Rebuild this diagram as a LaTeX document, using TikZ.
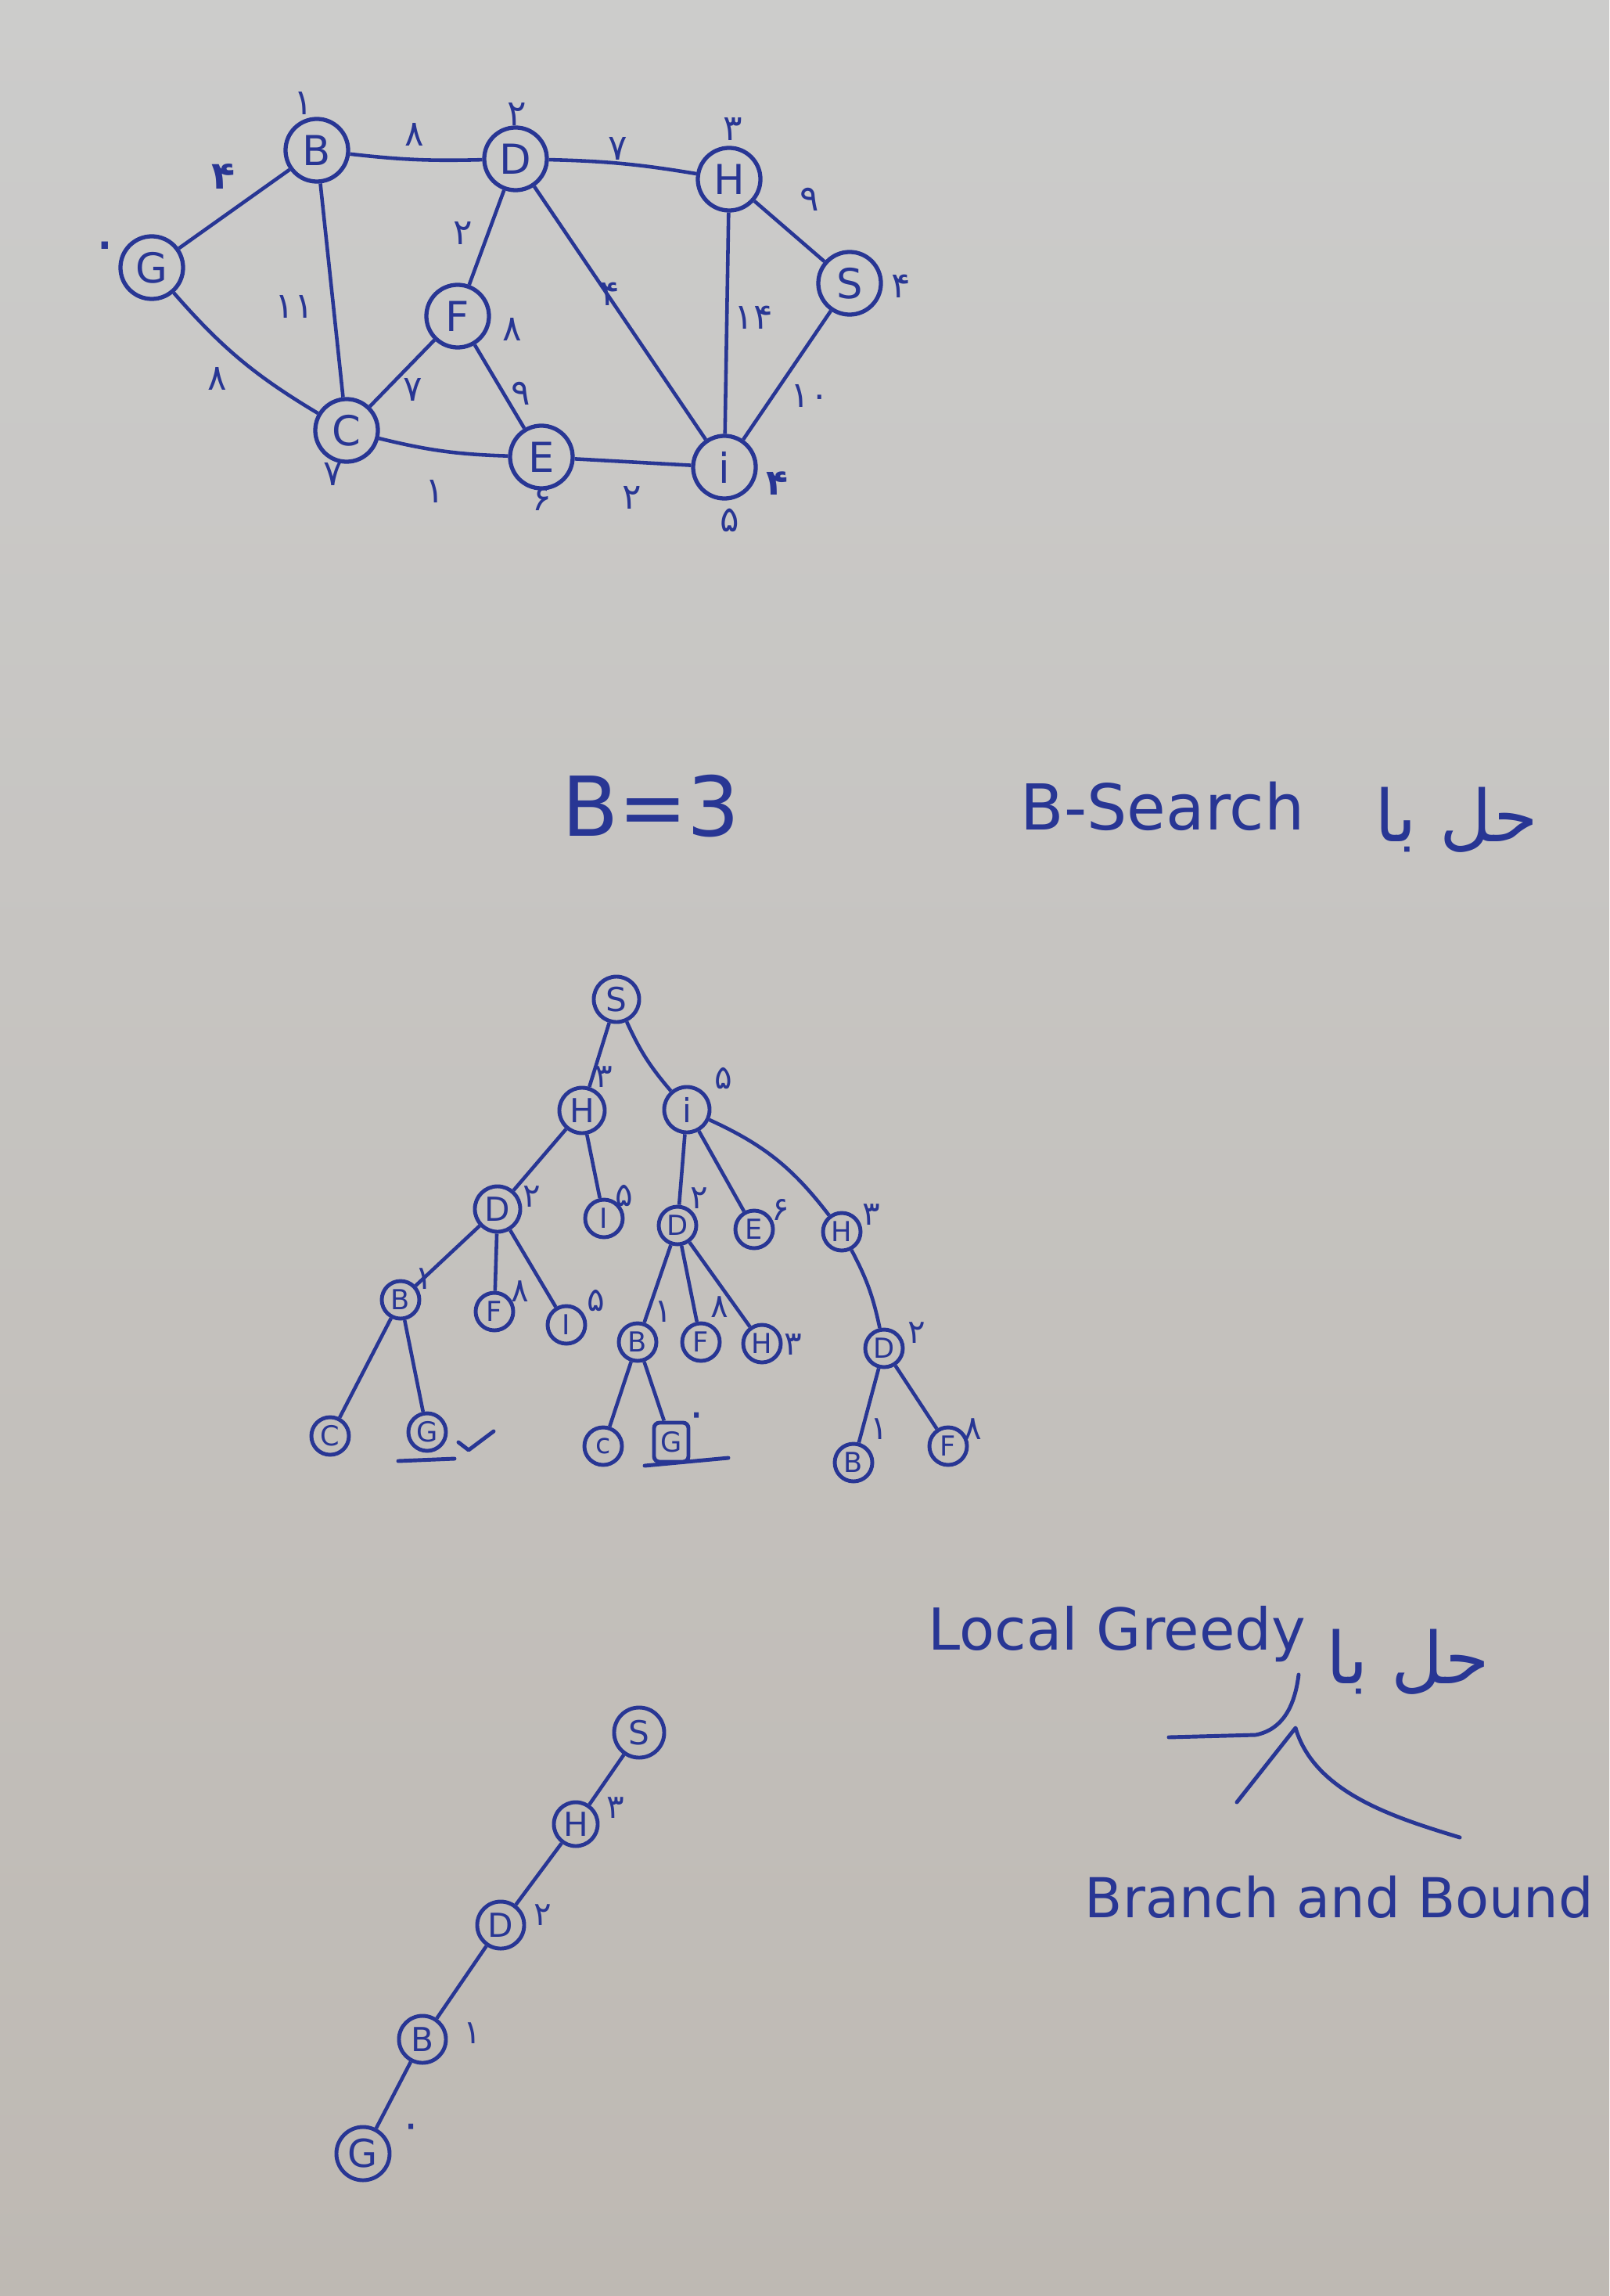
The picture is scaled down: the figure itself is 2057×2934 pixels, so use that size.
\documentclass[tikz,border=0pt]{standalone}
\usepackage{fontspec}
\setmainfont{DejaVu Sans}
\newfontfamily\arabicfont[Script=Arabic]{DejaVu Sans}
\TeXXeTstate=1
\definecolor{ink}{RGB}{40,54,148}
\definecolor{papertop}{RGB}{204,204,203}
\definecolor{paperbot}{RGB}{190,185,179}
\tikzset{
  gnode/.style={circle,draw=ink,line width=1.5pt,minimum size=0.8cm,inner sep=0pt,text=ink,font=\fontsize{15}{15}\selectfont},
  tnode/.style={circle,draw=ink,line width=1.4pt,minimum size=0.58cm,inner sep=0pt,text=ink,font=\fontsize{12}{12}\selectfont},
  tsmall/.style={tnode,minimum size=0.48cm,font=\fontsize{10}{10}\selectfont},
  tbox/.style={tsmall,rectangle,rounded corners=2pt,minimum width=0.44cm,minimum height=0.5cm},
  wlab/.style={text=ink,font=\arabicfont\fontsize{13}{13}\selectfont,inner sep=0pt},
  hlab/.style={text=ink,font=\arabicfont\fontsize{12}{12}\selectfont,inner sep=0pt},
  zlab/.style={text=ink,font=\arabicfont\fontsize{22}{22}\selectfont,inner sep=0pt},
  edge/.style={draw=ink,line width=1.3pt},
  inkline/.style={draw=ink,line width=1.4pt,line cap=round,line join=round},
  title/.style={text=ink,inner sep=0pt},
}
\begin{document}
\begin{tikzpicture}[x=0.01cm,y=-0.01cm]
\useasboundingbox (0,0) rectangle (2057,2934);
\shade[top color=papertop,bottom color=paperbot] (0,0) rectangle (2057,2934);

% ---------------- graph ----------------
\node[gnode] (G) at (194,342) {G};
\node[gnode] (B) at (405,192) {B};
\node[gnode] (D) at (659,203) {D};
\node[gnode] (H) at (932,229) {H};
\node[gnode] (S) at (1086,362) {S};
\node[gnode] (F) at (585,404) {F};
\node[gnode] (C) at (443,550) {C};
\node[gnode] (E) at (692,584) {E};
\node[gnode] (i) at (926,597) {i};

\draw[edge] (G) -- (B);
\draw[edge] (G) to[bend right=9] (C);
\draw[edge] (B) to[bend right=4] (D);
\draw[edge] (B) -- (C);
\draw[edge] (D) to[bend left=4] (H);
\draw[edge] (D) -- (F);
\draw[edge] (D) -- (i);
\draw[edge] (H) -- (S);
\draw[edge] (H) -- (i);
\draw[edge] (S) -- (i);
\draw[edge] (F) -- (C);
\draw[edge] (F) -- (E);
\draw[edge] (C) to[bend right=6] (E);
\draw[edge] (E) -- (i);

% heuristic values
\node[wlab] (hB) at (388,132) {۱};
\node[wlab] (hD) at (661,146) {۲};
\node[wlab] (hH) at (937,165) {۳};
\node[wlab] (hS) at (1152,366) {۴};
\node[zlab] (hG) at (134,322) {۰};
\node[wlab] (hC) at (426,606) {۷};
\node[wlab] (hE) at (693,638) {۶};
\node[wlab] (hi) at (933,665) {۵};
\node[wlab,font=\arabicfont\bfseries\fontsize{13}{13}\selectfont] (hx) at (993,618) {۴};
\node[wlab] (hF) at (655,421) {۸};
% edge weights
\node[wlab,font=\arabicfont\bfseries\fontsize{14}{14}\selectfont] (wGB) at (286,226) {۴};
\node[wlab] (wBD) at (530,172) {۸};
\node[wlab] (wDH) at (790,190) {۷};
\node[wlab] (wHS) at (1035,255) {۹};
\node[wlab] (wGC) at (278,484) {۸};
\node[wlab] (wBC) at (376,392) {۱۱};
\node[wlab] (wDF) at (592,298) {۲};
\node[wlab] (wDi) at (780,376) {۴};
\node[wlab] (wHi) at (963,406) {۱۴};
\node[wlab] (wSi) at (1035,506) {۱۰};
\node[wlab] (wFE) at (666,503) {۹};
\node[wlab] (wCF) at (528,498) {۷};
\node[wlab] (wCE) at (556,628) {۱};
\node[wlab] (wEi) at (808,636) {۲};

% ---------------- titles ----------------
\node[title,font=\fontsize{30}{30}\selectfont] (bval) at (832,1030) {B=3};
\node[title,font=\fontsize{23}{23}\selectfont] (bsearch) at (1486,1030) {B-Search};
\node[title,font=\arabicfont\fontsize{26}{26}\selectfont] (hal1) at (1862,1048) {\beginR حل با\endR};

% ---------------- beam search tree ----------------
\node[tnode] (tS) at (788,1277) {S};
\node[tnode] (tH) at (744,1419) {H};
\node[tnode] (ti) at (878,1418) {i};
\node[tnode] (tD1) at (636,1545) {D};
\node[tsmall] (tI1) at (772,1557) {I};
\node[tsmall] (tD2) at (866,1566) {D};
\node[tsmall] (tE) at (964,1571) {E};
\node[tsmall] (tH2) at (1076,1574) {H};
\node[tsmall] (tB1) at (512,1661) {B};
\node[tsmall] (tF1) at (632,1676) {F};
\node[tsmall] (tI2) at (724,1693) {I};
\node[tsmall] (tB2) at (815,1715) {B};
\node[tsmall] (tF2) at (896,1715) {F};
\node[tsmall] (tH3) at (974,1717) {H};
\node[tsmall] (tD3) at (1130,1723) {D};
\node[tsmall] (tC1) at (422,1835) {C};
\node[tsmall] (tG1) at (546,1830) {G};
\node[tsmall] (tC2) at (771,1848) {c};
\node[tbox] (tG2) at (858,1843) {G};
\node[tsmall] (tB3) at (1091,1869) {B};
\node[tsmall] (tF3) at (1212,1848) {F};

\draw[edge] (tS) -- (tH);
\draw[edge] (tS) to[bend right=8] (ti);
\draw[edge] (tH) -- (tD1);
\draw[edge] (tH) -- (tI1);
\draw[edge] (ti) -- (tD2);
\draw[edge] (ti) -- (tE);
\draw[edge] (ti) to[bend left=14] (tH2);
\draw[edge] (tD1) -- (tB1);
\draw[edge] (tD1) -- (tF1);
\draw[edge] (tD1) -- (tI2);
\draw[edge] (tD2) -- (tB2);
\draw[edge] (tD2) -- (tF2);
\draw[edge] (tD2) -- (tH3);
\draw[edge] (tH2) to[bend left=8] (tD3);
\draw[edge] (tB1) -- (tC1);
\draw[edge] (tB1) -- (tG1);
\draw[edge] (tB2) -- (tC2);
\draw[edge] (tB2) -- (tG2);
\draw[edge] (tD3) -- (tB3);
\draw[edge] (tD3) -- (tF3);

\node[hlab] (lH) at (772,1376) {۳};
\node[hlab] (li) at (925,1378) {۵};
\node[hlab] (lD1) at (680,1529) {۲};
\node[hlab] (lI1) at (798,1528) {۵};
\node[hlab] (lD2) at (894,1531) {۲};
\node[hlab] (lE) at (998,1546) {۶};
\node[hlab] (lH2) at (1114,1552) {۳};
\node[hlab] (lB1) at (542,1634) {۱};
\node[hlab] (lF1) at (665,1650) {۸};
\node[hlab] (lI2) at (762,1662) {۵};
\node[hlab] (lB2) at (848,1676) {۱};
\node[hlab] (lF2) at (920,1670) {۸};
\node[hlab] (lH3) at (1014,1718) {۳};
\node[hlab] (lD3) at (1172,1703) {۲};
\node[hlab] (lB3) at (1124,1826) {۱};
\node[hlab] (lF3) at (1244,1826) {۸};
\node[zlab,font=\arabicfont\fontsize{16}{16}\selectfont] (lG2) at (891,1815) {۰};

\coordinate (ck1) at (586,1843);
\coordinate (ck2) at (599,1853);
\coordinate (ck3) at (631,1829);
\draw[inkline] (ck1) -- (ck2) -- (ck3);
\coordinate (u1a) at (509,1867);
\coordinate (u1b) at (581,1864);
\draw[inkline] (u1a) -- (u1b);
\coordinate (u2a) at (824,1873);
\coordinate (u2b) at (931,1863);
\draw[inkline] (u2a) -- (u2b);

% ---------------- local greedy ----------------
\node[title,font=\fontsize{21}{21}\selectfont] (lg) at (1428,2088) {Local Greedy};
\node[title,font=\arabicfont\fontsize{26}{26}\selectfont] (hal2) at (1800,2124) {\beginR حل با\endR};
\node[title,font=\fontsize{20}{20}\selectfont] (bb) at (1712,2424) {Branch and Bound};

\coordinate (br1) at (1494,2220);
\coordinate (br2) at (1605,2217);
\coordinate (br3) at (1660,2140);
\draw[inkline] (br1) -- (br2) .. controls (1640,2210) and (1655,2180) .. (br3);
\coordinate (ca1) at (1581,2303);
\coordinate (ca2) at (1656,2208);
\coordinate (ca3) at (1866,2348);
\draw[inkline] (ca1) -- (ca2) .. controls (1680,2290) and (1780,2322) .. (ca3);

\node[tnode,minimum size=0.64cm] (gS) at (817,2214) {S};
\node[tnode,minimum size=0.56cm] (gH) at (736,2331) {H};
\node[tnode,minimum size=0.6cm] (gD) at (640,2460) {D};
\node[tnode,minimum size=0.6cm] (gB) at (540,2606) {B};
\node[tnode,minimum size=0.68cm,font=\fontsize{14}{14}\selectfont] (gG) at (464,2752) {G};
\draw[edge] (gS) -- (gH);
\draw[edge] (gH) -- (gD);
\draw[edge] (gD) -- (gB);
\draw[edge] (gB) -- (gG);
\node[hlab] (gl1) at (787,2310) {۳};
\node[hlab] (gl2) at (694,2447) {۲};
\node[hlab] (gl3) at (604,2598) {۱};
\node[zlab,font=\arabicfont\fontsize{16}{16}\selectfont] (gl4) at (526,2724) {۰};
\end{tikzpicture}
\end{document}
